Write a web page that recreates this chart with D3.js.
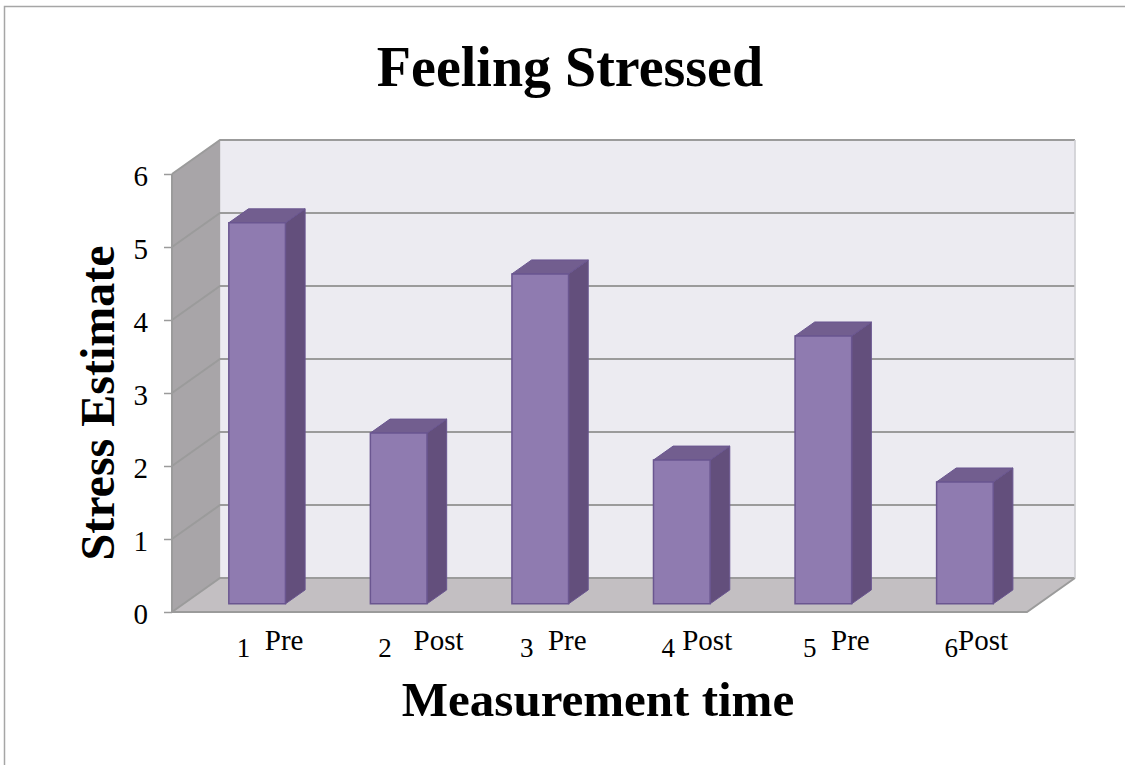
<!DOCTYPE html>
<html>
<head>
<meta charset="utf-8">
<script src="https://cdn.jsdelivr.net/npm/d3@7"></script>
<style>
  body { margin: 0; background: #fff; }
  svg text { font-family: "Liberation Serif", "DejaVu Serif", serif; fill: #000; }
</style>
</head>
<body>
<div id="chart"></div>
<script>
// data
let categories = ['1', '2', '3', '4', '5', '6'];
let phases = ['Pre', 'Post', 'Pre', 'Post', 'Pre', 'Post'];
let gaps = ['  ', '   ', '  ', ' ', '  ', ''];   // spacing as typed in the labels
let stress = [5.22, 2.34, 4.52, 1.97, 3.67, 1.67];
let yTicks = [0, 1, 2, 3, 4, 5, 6];

let width = 1125, height = 765;
let wallColor = '#ecebf1',
    sideColor = '#a8a5a8',
    floorColor = '#c3bfc2',
    gridColor = '#9b9b9b',
    barFront = '#8f7bb0',
    barSide = '#634f7c',
    barTop = '#725e8f',
    barStroke = '#6a5690';

// 3d offset of the back wall relative to the front plane
let depthX = 48, depthY = -34;

let svg = d3.select('#chart').append('svg')
    .attr('width', width)
    .attr('height', height);

// outer chart border
svg.append('rect')
    .attr('x', 4.5).attr('y', 6.5)
    .attr('width', width + 10).attr('height', height + 10)
    .attr('fill', 'none').attr('stroke', '#a6a6a6').attr('stroke-width', 1.5);

let x = d3.scaleBand()
    .domain(categories)
    .range([172, 1027])
    .paddingInner(0.6)
    .paddingOuter(0.32);

let y = d3.scaleLinear()
    .domain([0, 6])
    .range([612, 174]);

// project a point from the front plane into depth z (0 = front, 1 = back)
function P(px, py, z) {
  return [px + z * depthX, py + z * depthY];
}
function poly(pts) {
  return 'M' + pts.map(p => p.join(',')).join('L') + 'Z';
}

let x0 = x.range()[0], x1 = x.range()[1];
let yMin = y(0), yMax = y(6);

// back wall
svg.append('path')
    .attr('d', poly([P(x0, yMax, 1), P(x1, yMax, 1), P(x1, yMin, 1), P(x0, yMin, 1)]))
    .attr('fill', wallColor)
    .attr('stroke', '#d4d3d8').attr('stroke-width', 1);

// side wall
svg.append('path')
    .attr('d', poly([P(x0, yMax, 0), P(x0, yMax, 1), P(x0, yMin, 1), P(x0, yMin, 0)]))
    .attr('fill', sideColor);

// floor
svg.append('path')
    .attr('d', poly([P(x0, yMin, 0), P(x0, yMin, 1), P(x1, yMin, 1), P(x1, yMin, 0)]))
    .attr('fill', floorColor);

// grid lines on side and back walls
let grid = svg.append('g')
    .attr('fill', 'none')
    .attr('stroke', gridColor)
    .attr('stroke-width', 2);
yTicks.forEach(t => {
  grid.append('path')
      .attr('d', d3.line()([P(x0, y(t), 0), P(x0, y(t), 1), P(x1, y(t), 1)]));
});
// floor front and right edges
grid.append('path')
    .attr('d', d3.line()([P(x0, yMin, 0), P(x1, yMin, 0), P(x1, yMin, 1)]));
// left axis line
grid.append('path')
    .attr('d', d3.line()([P(x0, yMax, 0), P(x0, yMin, 0)]));
grid.append('path')
    .attr('stroke', '#d0d0d4').attr('stroke-width', 1.5)
    .attr('d', d3.line()([P(x1, yMax, 1), P(x1, yMin, 1)]));

// left axis ticks + labels
let axis = d3.axisLeft(y)
    .tickValues(yTicks)
    .tickFormat(d3.format('d'))
    .tickSize(8)
    .tickPadding(16);
let ag = svg.append('g')
    .attr('transform', 'translate(' + x0 + ',0)')
    .call(axis);
ag.select('.domain').remove();
ag.selectAll('.tick line').attr('stroke', gridColor).attr('stroke-width', 1.5);
ag.selectAll('.tick text')
    .attr('font-family', '"Liberation Serif", serif')
    .attr('font-size', 29)
    .attr('dy', '0.4em')
    .attr('fill', '#000');

// bars, placed in the middle of the floor depth
let zFront = 0.24, zBack = 0.65;
let bars = svg.append('g').selectAll('g')
    .data(stress)
    .join('g');

bars.each(function(v, i) {
  let g = d3.select(this);
  let bx0 = x(categories[i]), bx1 = bx0 + x.bandwidth();
  let top = y(v), base = y(0);
  // side face
  g.append('path')
      .attr('d', poly([P(bx1, top, zFront), P(bx1, top, zBack), P(bx1, base, zBack), P(bx1, base, zFront)]))
      .attr('fill', barSide).attr('stroke', barStroke).attr('stroke-width', 1);
  // top face
  g.append('path')
      .attr('d', poly([P(bx0, top, zFront), P(bx0, top, zBack), P(bx1, top, zBack), P(bx1, top, zFront)]))
      .attr('fill', barTop).attr('stroke', barStroke).attr('stroke-width', 1);
  // front face
  g.append('path')
      .attr('d', poly([P(bx0, top, zFront), P(bx1, top, zFront), P(bx1, base, zFront), P(bx0, base, zFront)]))
      .attr('fill', barFront).attr('stroke', barStroke).attr('stroke-width', 1.5);
});

// category labels: number sits a little lower than the phase text
let labels = svg.append('g').selectAll('text')
    .data(categories)
    .join('text')
    .attr('x', d => x(d) + zFront * depthX + 8)
    .attr('y', 650)
    .attr('font-size', 29)
    .style('white-space', 'pre');
labels.append('tspan')
    .attr('font-size', 27)
    .attr('dy', 7)
    .text(d => d);
labels.append('tspan')
    .attr('dy', -7)
    .text((d, i) => gaps[i] + phases[i]);

// titles
svg.append('text')
    .attr('x', 570).attr('y', 86)
    .attr('text-anchor', 'middle')
    .attr('font-size', 56)
    .attr('font-weight', 'bold')
    .text('Feeling Stressed');

svg.append('text')
    .attr('x', 598).attr('y', 716)
    .attr('text-anchor', 'middle')
    .attr('font-size', 49)
    .attr('font-weight', 'bold')
    .text('Measurement time');

svg.append('text')
    .attr('transform', 'translate(114,403) rotate(-90)')
    .attr('text-anchor', 'middle')
    .attr('font-size', 48)
    .attr('font-weight', 'bold')
    .text('Stress Estimate');
</script>
</body>
</html>
